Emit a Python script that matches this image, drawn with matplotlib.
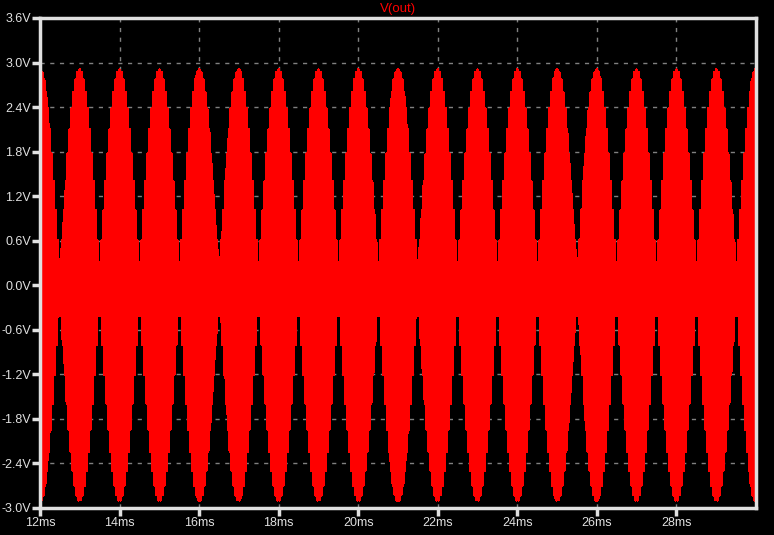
import numpy as np
import matplotlib
matplotlib.use("Agg")
import matplotlib.pyplot as plt

# signal: two tones beating at 1 kHz
# peak envelope ~2.9 V, minimum envelope ~0.3 V
amp1 = 1.6        # V
amp2 = 1.3        # V
freq1 = 20000.0   # Hz
freq2 = 21000.0   # Hz
t_start = 12e-3
t_stop = 30e-3

x_ticks = [12, 14, 16, 18, 20, 22, 24, 26, 28]
x_labels = ["12ms", "14ms", "16ms", "18ms", "20ms", "22ms", "24ms", "26ms", "28ms"]
y_ticks = [-3.0, -2.4, -1.8, -1.2, -0.6, 0.0, 0.6, 1.2, 1.8, 2.4, 3.0, 3.6]
y_labels = ["-3.0V", "-2.4V", "-1.8V", "-1.2V", "-0.6V", "0.0V",
            "0.6V", "1.2V", "1.8V", "2.4V", "3.0V", "3.6V"]

t = np.linspace(t_start, t_stop, 40000)
v = amp1 * np.cos(2 * np.pi * freq1 * t) + amp2 * np.cos(2 * np.pi * freq2 * t)

plt.rcParams['font.family'] = ['Liberation Sans', 'DejaVu Sans']
fg = "#e0e0e0"
fig = plt.figure(figsize=(7.74, 5.35), dpi=100, facecolor="black")
ax = fig.add_axes([40 / 774, 27 / 535, 716 / 774, 490 / 535], facecolor="black")

ax.plot(t * 1000, v, color="#ff0000", lw=1.6, antialiased=False)

ax.set_xlim(12, 30)
ax.set_ylim(-3.0, 3.6)
ax.set_xticks(x_ticks)
ax.set_xticklabels(x_labels)
ax.set_yticks(y_ticks)
ax.set_yticklabels(y_labels)

ax.grid(True, color="#808080", linestyle=(0, (3, 4)), linewidth=1)
for s in ax.spines.values():
    s.set_color(fg)
    s.set_linewidth(2.5)
    s.set_zorder(3)
ax.tick_params(colors=fg, length=6, width=2.5, labelsize=9, pad=0.5)
for lab in ax.get_xticklabels() + ax.get_yticklabels():
    lab.set_color(fg)

fig.text(398 / 774, 1 - 9 / 535, "V(out)", color="#ff0000", fontsize=9.5,
         ha="center", va="center")

fig.savefig("out.png", dpi=100, facecolor="black")
